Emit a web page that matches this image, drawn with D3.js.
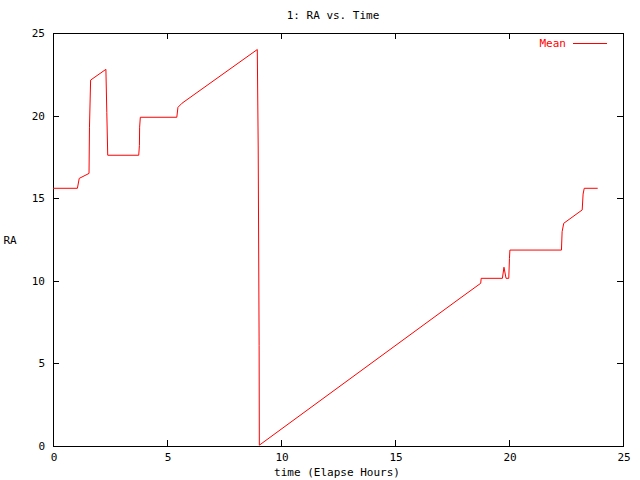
<!DOCTYPE html>
<html><head><meta charset="utf-8">
<script src="https://cdn.jsdelivr.net/npm/d3@7"></script>
<style>body{margin:0;background:#fff}svg{display:block}text{font-family:"DejaVu Sans Mono","Liberation Mono",monospace;font-size:11px}</style>
</head><body>
<script>
const title = "1: RA vs. Time";
const xLabel = "time (Elapse Hours)";
const yLabel = "RA";
const seriesName = "Mean";
const xTicks = [0, 5, 10, 15, 20, 25];
const yTicks = [0, 5, 10, 15, 20, 25];
const times = [0, 1.07, 1.15, 1.58, 1.6, 1.65, 2.32, 2.36, 2.4, 3.76, 3.79, 3.8, 3.83, 5.43, 5.48, 5.66, 8.96, 9.0, 9.04, 9.05, 17.85, 18.76, 18.78, 19.71, 19.78, 19.87, 19.99, 20.02, 20.04, 22.3, 22.33, 22.4, 23.21, 23.25, 23.3, 23.89];
const values = [15.6, 15.6, 16.2, 16.5, 19.3, 22.15, 22.8, 20.2, 17.6, 17.6, 18.2, 19.3, 19.9, 19.9, 20.5, 20.75, 24.0, 18.1, 6.1, 0.05, 8.94, 9.85, 10.15, 10.15, 10.82, 10.15, 10.15, 11.36, 11.86, 11.86, 12.97, 13.48, 14.29, 15.25, 15.6, 15.6];

const W = 640, H = 480;
const L = 53, R = 623, T = 33, B = 446;
const svg = d3.select("body").append("svg").attr("width", W).attr("height", H);
const x = d3.scaleLinear().domain([0, 25]).range([L, R]);
const y = d3.scaleLinear().domain([0, 25]).range([B, T]);
const tl = 6;

const g = svg.append("g").attr("shape-rendering", "crispEdges");
g.append("rect").attr("x", L + 0.5).attr("y", T + 0.5).attr("width", R - L).attr("height", B - T)
  .attr("fill", "none").attr("stroke", "#000").attr("stroke-width", 1);

xTicks.forEach(v => {
  const px = Math.round(x(v)) + 0.5;
  g.append("line").attr("x1", px).attr("x2", px).attr("y1", B).attr("y2", B - tl).attr("stroke", "#000");
  g.append("line").attr("x1", px).attr("x2", px).attr("y1", T).attr("y2", T + tl).attr("stroke", "#000");
  svg.append("text").attr("x", x(v) + 1).attr("y", 461).attr("text-anchor", "middle").text(v);
});
yTicks.forEach(v => {
  const py = Math.round(y(v)) + 0.5;
  g.append("line").attr("x1", L).attr("x2", L + tl).attr("y1", py).attr("y2", py).attr("stroke", "#000");
  g.append("line").attr("x1", R).attr("x2", R - tl).attr("y1", py).attr("y2", py).attr("stroke", "#000");
  svg.append("text").attr("x", 45).attr("y", y(v) + 4).attr("text-anchor", "end").text(v);
});

const data = times.map((t, i) => [t, values[i]]);
const line = d3.line().x(d => x(d[0])).y(d => y(d[1]));
svg.append("path").datum(data).attr("d", line).attr("fill", "none").attr("stroke", "#ff0000").attr("stroke-width", 1);

svg.append("text").attr("x", 333).attr("y", 19).attr("text-anchor", "middle").text(title);
svg.append("text").attr("x", 337).attr("y", 476).attr("text-anchor", "middle").text(xLabel);
svg.append("text").attr("x", 10).attr("y", 244).attr("text-anchor", "middle").text(yLabel);

svg.append("text").attr("x", 566).attr("y", 47).attr("text-anchor", "end").attr("fill", "#ff0000").text(seriesName);
svg.append("line").attr("x1", 573).attr("x2", 607).attr("y1", 43.5).attr("y2", 43.5).attr("stroke", "#ff0000").attr("shape-rendering", "crispEdges");
</script>
</body></html>
